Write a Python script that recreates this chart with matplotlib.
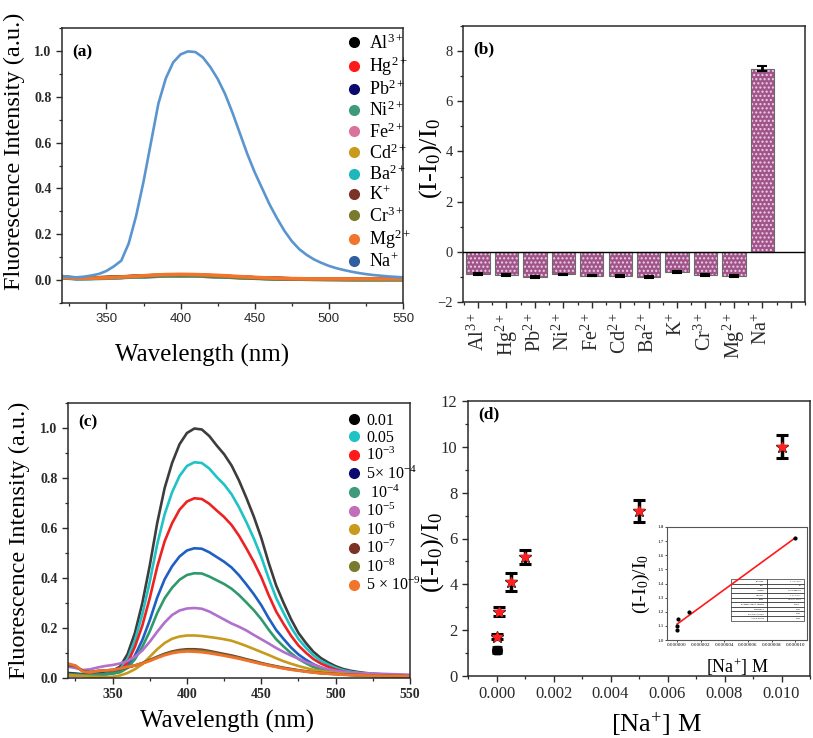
import numpy as np
import matplotlib
matplotlib.use("Agg")
import matplotlib.pyplot as plt
from matplotlib.lines import Line2D
from matplotlib.ticker import MultipleLocator, FixedLocator

plt.rcParams['font.family'] = ['Liberation Serif', 'DejaVu Serif']
plt.rcParams['mathtext.fontset'] = 'custom'
plt.rcParams['mathtext.rm'] = 'Liberation Serif'
plt.rcParams['mathtext.it'] = 'Liberation Serif:italic'
plt.rcParams['mathtext.bf'] = 'Liberation Serif:bold'
plt.rcParams['axes.linewidth'] = 1.1

# ---------------- Panel (a) data ----------------
wl5 = list(range(320, 551, 5))
wl10 = list(range(320, 551, 10))
ions = ['Al$^{3+}$', 'Hg$^{2+}$', 'Pb$^{2+}$', 'Ni$^{2+}$', 'Fe$^{2+}$', 'Cd$^{2+}$',
        'Ba$^{2+}$', 'K$^{+}$', 'Cr$^{3+}$', 'Mg$^{2+}$', 'Na$^{+}$']
ion_colors = ['#000000', '#ff1a1a', '#0a0a6e', '#3f9a7c', '#d9739e', '#c99a1c',
              '#1fb7bd', '#7b3326', '#7a7a2e', '#f2752c', '#2f5fa0']
na_line_color = '#5b95cf'

al_a = [0.012, 0.008, 0.008, 0.010, 0.012, 0.015, 0.017, 0.019, 0.020, 0.019, 0.017, 0.014, 0.012, 0.009, 0.007, 0.006, 0.005, 0.004, 0.004, 0.003, 0.003, 0.003, 0.003, 0.003]
hg_a = [0.013, 0.009, 0.009, 0.011, 0.013, 0.016, 0.019, 0.021, 0.022, 0.021, 0.019, 0.016, 0.013, 0.010, 0.008, 0.006, 0.005, 0.005, 0.004, 0.004, 0.004, 0.004, 0.004, 0.004]
pb_a = [0.011, 0.007, 0.008, 0.010, 0.012, 0.014, 0.016, 0.018, 0.019, 0.018, 0.016, 0.014, 0.011, 0.009, 0.007, 0.005, 0.004, 0.004, 0.003, 0.003, 0.003, 0.003, 0.003, 0.003]
ni_a = [0.012, 0.008, 0.009, 0.011, 0.013, 0.016, 0.018, 0.020, 0.021, 0.020, 0.018, 0.015, 0.012, 0.010, 0.008, 0.006, 0.005, 0.004, 0.004, 0.004, 0.003, 0.003, 0.003, 0.003]
fe_a = [0.012, 0.008, 0.008, 0.010, 0.012, 0.015, 0.018, 0.020, 0.021, 0.020, 0.019, 0.016, 0.013, 0.010, 0.008, 0.006, 0.005, 0.004, 0.004, 0.003, 0.003, 0.003, 0.003, 0.003]
cd_a = [0.011, 0.007, 0.008, 0.010, 0.012, 0.014, 0.017, 0.018, 0.019, 0.018, 0.016, 0.013, 0.011, 0.008, 0.006, 0.005, 0.004, 0.003, 0.003, 0.003, 0.002, 0.002, 0.002, 0.002]
ba_a = [0.010, 0.005, 0.006, 0.008, 0.011, 0.014, 0.016, 0.018, 0.019, 0.018, 0.016, 0.013, 0.011, 0.008, 0.006, 0.005, 0.004, 0.003, 0.003, 0.003, 0.002, 0.002, 0.002, 0.002]
k_a = [0.013, 0.009, 0.009, 0.011, 0.014, 0.017, 0.019, 0.021, 0.022, 0.021, 0.019, 0.016, 0.013, 0.010, 0.008, 0.006, 0.005, 0.005, 0.004, 0.004, 0.004, 0.004, 0.004, 0.004]
cr_a = [0.012, 0.008, 0.009, 0.011, 0.013, 0.016, 0.019, 0.021, 0.022, 0.021, 0.018, 0.015, 0.012, 0.010, 0.008, 0.006, 0.005, 0.004, 0.004, 0.004, 0.003, 0.003, 0.003, 0.003]
mg_a = [0.012, 0.007, 0.008, 0.010, 0.013, 0.017, 0.021, 0.024, 0.025, 0.024, 0.022, 0.019, 0.015, 0.012, 0.009, 0.007, 0.006, 0.005, 0.005, 0.005, 0.005, 0.005, 0.005, 0.005]
na_a = [0.018, 0.014, 0.012, 0.015, 0.020, 0.027, 0.040, 0.060, 0.085, 0.160, 0.280, 0.430,
        0.600, 0.770, 0.880, 0.950, 0.985, 0.998, 0.995, 0.972, 0.930, 0.878, 0.812, 0.730,
        0.640, 0.550, 0.470, 0.400, 0.330, 0.270, 0.215, 0.170, 0.135, 0.110, 0.090, 0.075,
        0.062, 0.052, 0.044, 0.037, 0.031, 0.026, 0.022, 0.019, 0.016, 0.014, 0.012]
flat_series = [al_a, hg_a, pb_a, ni_a, fe_a, cd_a, ba_a, k_a, cr_a, mg_a]

# ---------------- Panel (b) data ----------------
bar_values = [-0.88, -0.93, -1.00, -0.90, -0.95, -0.97, -1.00, -0.80, -0.93, -0.95, 7.30]
bar_errors = [0.03, 0.03, 0.04, 0.03, 0.03, 0.03, 0.04, 0.05, 0.03, 0.04, 0.10]

# ---------------- Panel (c) data ----------------
conc_labels = ['0.01', '0.05', '10$^{-3}$', '5× 10$^{-4}$', ' 10$^{-4}$', '10$^{-5}$',
               '10$^{-6}$', '10$^{-7}$', '10$^{-8}$', '5 × 10$^{-9}$']
line_colors_c = ['#3d3d3d', '#1ec3c6', '#ee2222', '#1f5fc4', '#2e9a6c', '#b070cc',
                 '#c79a1e', '#7a3a2c', '#7f7f32', '#f3722a']
marker_colors_c = ['#000000', '#1ec3c6', '#ff1a1a', '#0a0a6e', '#3f9a7c', '#c06fb8',
                   '#c99a1c', '#7b3326', '#7a7a2e', '#f2752c']
c_001 = [0.020, 0.018, 0.015, 0.015, 0.018, 0.022, 0.030, 0.045, 0.095, 0.180, 0.300, 0.450,
         0.620, 0.760, 0.860, 0.935, 0.980, 0.998, 0.994, 0.968, 0.930, 0.895, 0.850, 0.790,
         0.720, 0.645, 0.560, 0.460, 0.370, 0.300, 0.235, 0.180, 0.140, 0.105, 0.080, 0.062,
         0.047, 0.036, 0.029, 0.024, 0.020, 0.017, 0.015, 0.013, 0.012, 0.011, 0.010]
c_005 = [0.012, 0.011, 0.010, 0.010, 0.012, 0.016, 0.022, 0.035, 0.075, 0.150, 0.255, 0.385,
         0.535, 0.655, 0.743, 0.808, 0.848, 0.863, 0.860, 0.838, 0.804, 0.774, 0.735, 0.683,
         0.623, 0.558, 0.484, 0.398, 0.320, 0.260, 0.203, 0.156, 0.121, 0.091, 0.069, 0.054,
         0.041, 0.031, 0.025, 0.021, 0.017, 0.015, 0.013, 0.012, 0.011, 0.010, 0.009]
c_1e3 = [0.012, 0.011, 0.010, 0.010, 0.012, 0.015, 0.020, 0.030, 0.060, 0.125, 0.210, 0.320,
         0.445, 0.547, 0.619, 0.673, 0.706, 0.719, 0.716, 0.697, 0.670, 0.644, 0.612, 0.569,
         0.518, 0.464, 0.403, 0.331, 0.266, 0.216, 0.169, 0.130, 0.101, 0.076, 0.058, 0.045,
         0.034, 0.026, 0.021, 0.017, 0.014, 0.012, 0.011, 0.010, 0.009, 0.008, 0.007]
c_5e4 = [0.015, 0.013, 0.012, 0.012, 0.013, 0.015, 0.018, 0.025, 0.045, 0.090, 0.152, 0.231,
         0.322, 0.395, 0.447, 0.486, 0.510, 0.519, 0.517, 0.503, 0.484, 0.465, 0.442, 0.411,
         0.374, 0.335, 0.291, 0.239, 0.192, 0.156, 0.122, 0.094, 0.073, 0.055, 0.042, 0.032,
         0.024, 0.019, 0.015, 0.012, 0.010, 0.009, 0.008, 0.007, 0.006, 0.006, 0.005]
c_1e4 = [0.015, 0.013, 0.012, 0.012, 0.013, 0.015, 0.018, 0.023, 0.040, 0.075, 0.125, 0.187,
         0.260, 0.319, 0.361, 0.393, 0.412, 0.419, 0.418, 0.406, 0.391, 0.376, 0.357, 0.332,
         0.302, 0.271, 0.235, 0.193, 0.155, 0.126, 0.099, 0.076, 0.059, 0.044, 0.034, 0.026,
         0.020, 0.015, 0.012, 0.010, 0.008, 0.007, 0.007, 0.006, 0.006, 0.005, 0.005]
c_1e5 = [0.045, 0.040, 0.032, 0.035, 0.042, 0.048, 0.052, 0.058, 0.068, 0.085, 0.110, 0.145,
         0.185, 0.222, 0.252, 0.270, 0.278, 0.280, 0.277, 0.266, 0.250, 0.234, 0.218, 0.205,
         0.190, 0.172, 0.155, 0.138, 0.120, 0.104, 0.090, 0.077, 0.064, 0.053, 0.043, 0.035,
         0.029, 0.025, 0.022, 0.020, 0.019, 0.018, 0.017, 0.016, 0.015, 0.014, 0.013]
c_1e6 = [0.012, 0.010, 0.008, 0.006, 0.005, 0.004, 0.005, 0.010, 0.020, 0.035, 0.055, 0.085,
         0.115, 0.140, 0.157, 0.166, 0.170, 0.170, 0.168, 0.164, 0.160, 0.155, 0.149, 0.139,
         0.128, 0.116, 0.104, 0.092, 0.079, 0.067, 0.057, 0.048, 0.040, 0.033, 0.028, 0.024,
         0.020, 0.017, 0.015, 0.013, 0.012, 0.011, 0.010, 0.009, 0.008, 0.008, 0.007]
c_1e7 = [0.052, 0.048, 0.028, 0.024, 0.028, 0.030, 0.032, 0.036, 0.042, 0.050, 0.060, 0.072,
         0.085, 0.097, 0.106, 0.112, 0.115, 0.115, 0.113, 0.108, 0.102, 0.096, 0.090, 0.083,
         0.075, 0.068, 0.060, 0.053, 0.047, 0.041, 0.036, 0.031, 0.027, 0.023, 0.020, 0.018,
         0.016, 0.014, 0.013, 0.012, 0.011, 0.010, 0.009, 0.009, 0.008, 0.008, 0.007]
c_1e8 = [0.055, 0.049, 0.026, 0.023, 0.028, 0.030, 0.032, 0.037, 0.044, 0.050, 0.059, 0.070,
         0.083, 0.094, 0.103, 0.108, 0.110, 0.110, 0.108, 0.104, 0.098, 0.092, 0.086, 0.080,
         0.072, 0.065, 0.058, 0.051, 0.045, 0.039, 0.034, 0.030, 0.026, 0.022, 0.019, 0.017,
         0.015, 0.013, 0.012, 0.011, 0.010, 0.009, 0.009, 0.008, 0.008, 0.007, 0.007]
c_5e9 = [0.058, 0.050, 0.025, 0.022, 0.028, 0.030, 0.033, 0.038, 0.045, 0.050, 0.058, 0.068,
         0.080, 0.091, 0.099, 0.104, 0.106, 0.105, 0.103, 0.099, 0.094, 0.089, 0.083, 0.077,
         0.070, 0.063, 0.056, 0.050, 0.044, 0.038, 0.033, 0.029, 0.025, 0.022, 0.019, 0.017,
         0.015, 0.013, 0.012, 0.011, 0.010, 0.009, 0.009, 0.008, 0.008, 0.007, 0.007]
c_series = [c_001, c_005, c_1e3, c_5e4, c_1e4, c_1e5, c_1e6, c_1e7, c_1e8, c_5e9]

# ---------------- Panel (d) data ----------------
na_conc = [5e-9, 1e-8, 1e-7, 1e-6, 1e-5, 1e-4, 5e-4, 1e-3, 5e-3, 1e-2]
na_ratio = [1.07, 1.10, 1.15, 1.20, 1.72, 2.80, 4.10, 5.20, 7.20, 10.00]
na_err = [0.05, 0.05, 0.05, 0.06, 0.12, 0.20, 0.40, 0.30, 0.50, 0.50]
fit_rows = [['Equation', 'y = a + b*x'], ['Plot', 'B'], ['Weight', 'No Weighting'],
            ['Intercept', '1.11 ± 0.01'], ['Slope', '59030 ± 2600'],
            ['Residual Sum of Squares', '0.0013'], ["Pearson's r", '0.997'],
            ['R-Square (COD)', '0.994'], ['Adj. R-Square', '0.992']]

W, H = 813, 738
fig = plt.figure(figsize=(W / 100, H / 100), dpi=100)

def box(l, t, r, b):
    return [l / W, 1 - b / H, (r - l) / W, (b - t) / H]

def style(ax):
    for s in ax.spines.values():
        s.set_color('#2a2a2a')
    ax.tick_params(which='major', direction='out', length=4, width=1, colors='#2a2a2a')
    ax.tick_params(which='minor', direction='out', length=2.5, width=0.9, colors='#2a2a2a')

# ===== (a) =====
ax = fig.add_axes(box(62, 28, 403, 303))
for ser, col in zip(flat_series, ion_colors[:10]):
    ax.plot(wl10, ser, color=col, lw=2.6, solid_capstyle='round')
ax.plot(wl5, na_a, color=na_line_color, lw=1.9)
ax.set_xlim(320, 550)
ax.set_ylim(-0.1, 1.1)
ax.xaxis.set_major_locator(MultipleLocator(50))
ax.xaxis.set_minor_locator(MultipleLocator(25))
ax.yaxis.set_major_locator(FixedLocator([0, 0.2, 0.4, 0.6, 0.8, 1.0]))
ax.yaxis.set_minor_locator(MultipleLocator(0.1))
style(ax)
for lab in ax.get_xticklabels():
    lab.set_fontfamily('Liberation Sans')
    lab.set_fontsize(9.5)
for lab in ax.get_yticklabels():
    lab.set_fontweight('bold')
    lab.set_fontsize(10)
ax.set_xlabel('Wavelength (nm)', fontsize=18)
ax.xaxis.set_label_coords(0.41, -0.15)
ax.set_ylabel('Fluorescence Intensity (a.u.)', fontsize=17.5)
ax.yaxis.set_label_coords(-0.108, 0.55)
ax.text(0.03, 0.895, '(a)', transform=ax.transAxes, fontsize=12.5, fontweight='bold')
handles = [Line2D([], [], ls='none', marker='o', ms=7, color=c) for c in ion_colors]
ax.legend(handles, ions, loc='upper right', bbox_to_anchor=(1.055, 1.02), frameon=False,
          fontsize=13, labelspacing=0.1, handletextpad=0.25, borderpad=0.1,
          handlelength=1.2)

# ===== (b) =====
ax = fig.add_axes(box(463, 26, 805, 302))
pos = np.arange(len(bar_values))
ax.bar(pos, bar_values, width=0.82, color='#a0558a', edgecolor='#f1cfe6', hatch='....',
       linewidth=0, zorder=2)
ax.bar(pos, bar_values, width=0.82, facecolor='none', edgecolor='#6a6a6a',
       linewidth=0.8, zorder=3)
ax.errorbar(pos, bar_values, yerr=bar_errors, fmt='none', ecolor='black', elinewidth=2,
            capsize=3.5, capthick=1.5, zorder=4)
ax.axhline(0, color='black', lw=1, zorder=3)
ax.set_xlim(-0.53, 11.5)
ax.set_ylim(-2, 9)
ax.set_xticks(list(pos) + [11])
ax.set_xticklabels(ions + [''], rotation=90, fontsize=14.5)
ax.xaxis.set_minor_locator(MultipleLocator(0.5))
ax.yaxis.set_major_locator(FixedLocator([-2, 0, 2, 4, 6, 8]))
ax.yaxis.set_minor_locator(MultipleLocator(1))
style(ax)
ax.tick_params(axis='y', labelsize=10.5)
ax.set_ylabel('(I-I$_0$)/I$_0$', fontsize=19)
ax.yaxis.set_label_coords(-0.055, 0.52)
ax.text(0.03, 0.90, '(b)', transform=ax.transAxes, fontsize=12.5, fontweight='bold')

# ===== (c) =====
ax = fig.add_axes(box(68, 403, 410, 678))
for ser, col in zip(c_series, line_colors_c):
    ax.plot(wl5, ser, color=col, lw=1.9)
ax.set_xlim(320, 550)
ax.set_ylim(0, 1.1)
ax.xaxis.set_major_locator(MultipleLocator(50))
ax.xaxis.set_minor_locator(MultipleLocator(25))
ax.yaxis.set_major_locator(FixedLocator([0, 0.2, 0.4, 0.6, 0.8, 1.0]))
ax.yaxis.set_minor_locator(MultipleLocator(0.1))
style(ax)
for lab in ax.get_xticklabels() + ax.get_yticklabels():
    lab.set_fontweight('bold')
    lab.set_fontsize(10)
ax.set_xlabel('Wavelength (nm)', fontsize=18)
ax.xaxis.set_label_coords(0.465, -0.115)
ax.set_ylabel('Fluorescence Intensity (a.u.)', fontsize=17.5)
ax.yaxis.set_label_coords(-0.111, 0.5)
ax.text(0.03, 0.915, '(c)', transform=ax.transAxes, fontsize=12.5, fontweight='bold')
handles = [Line2D([], [], ls='none', marker='o', ms=7, color=c) for c in marker_colors_c]
ax.legend(handles, conc_labels, loc='upper right', bbox_to_anchor=(1.06, 1.0), frameon=False,
          fontsize=11.5, labelspacing=0.08, handletextpad=0.2, borderpad=0.1,
          handlelength=1.2)

# ===== (d) =====
ax = fig.add_axes(box(468, 401, 810, 676))
low = [i for i, c in enumerate(na_conc) if c < 5e-6]
high = [i for i, c in enumerate(na_conc) if c >= 5e-6]
ax.errorbar([na_conc[i] for i in low], [na_ratio[i] for i in low],
            yerr=[na_err[i] for i in low], fmt='s', color='black', ms=5,
            elinewidth=2.2, capsize=3.5, capthick=2)
ax.errorbar([na_conc[i] for i in high], [na_ratio[i] for i in high],
            yerr=[na_err[i] for i in high], fmt='*', color='black', ms=9,
            elinewidth=2.5, capsize=4, capthick=2.2)
ax.plot([na_conc[i] for i in high], [na_ratio[i] for i in high], '*', color='#ff2020',
        ms=7, zorder=5)
ax.set_xlim(-0.001, 0.011)
ax.set_ylim(0, 12)
ax.xaxis.set_major_locator(MultipleLocator(0.002))
ax.xaxis.set_minor_locator(MultipleLocator(0.001))
ax.xaxis.set_major_formatter(matplotlib.ticker.FormatStrFormatter('%.3f'))
ax.yaxis.set_major_locator(MultipleLocator(2))
ax.yaxis.set_minor_locator(MultipleLocator(1))
style(ax)
ax.tick_params(axis='both', labelsize=12)
ax.set_xlabel('[Na$^{+}$] M', fontsize=19)
ax.xaxis.set_label_coords(0.55, -0.125)
ax.set_ylabel('(I-I$_0$)/I$_0$', fontsize=19)
ax.yaxis.set_label_coords(-0.064, 0.45)
ax.text(0.03, 0.935, '(d)', transform=ax.transAxes, fontsize=12.5, fontweight='bold')

# inset
axi = fig.add_axes(box(667, 527, 807, 640))
xs = na_conc[:5]
ys = na_ratio[:5]
b, a = np.polyfit(xs, ys, 1)
axi.plot([xs[0], xs[-1]], [a + b * xs[0], a + b * xs[-1]], color='#ff1a1a', lw=1.2)
axi.plot(xs, ys, 'o', color='black', ms=2)
axi.set_xlim(-0.85e-6, 1.1e-5)
axi.set_ylim(1.0, 1.8)
axi.xaxis.set_major_locator(MultipleLocator(2e-6))
axi.xaxis.set_major_formatter(matplotlib.ticker.FormatStrFormatter('%.6f'))
axi.yaxis.set_major_locator(MultipleLocator(0.1))
axi.yaxis.set_major_formatter(matplotlib.ticker.FormatStrFormatter('%.1f'))
for s in axi.spines.values():
    s.set_color('#555555')
    s.set_linewidth(0.8)
axi.tick_params(labelsize=3.6, length=1.5, width=0.5, pad=1)
axi.set_ylabel('(I-I$_0$)/I$_0$', fontsize=14, labelpad=4)
axi.set_xlabel('[Na$^{+}$] M', fontsize=13, labelpad=6)
tbl = axi.table(cellText=fit_rows, colWidths=[0.36, 0.37],
                bbox=[0.46, 0.17, 0.52, 0.37])
tbl.auto_set_font_size(False)
tbl.set_fontsize(1.6)
for cell in tbl.get_celld().values():
    cell.set_linewidth(0.4)

fig.savefig('out.png', dpi=100)
